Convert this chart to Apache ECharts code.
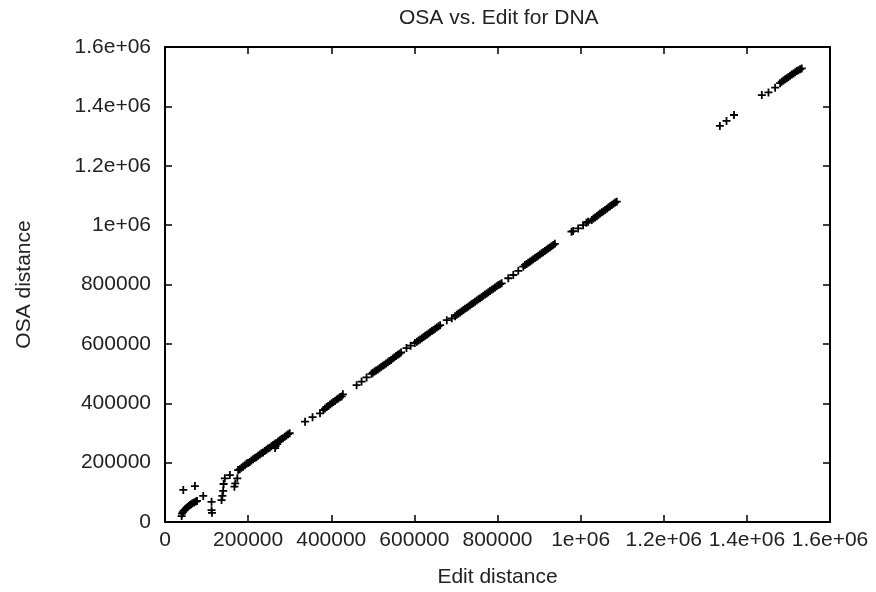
<!DOCTYPE html>
<html>
<head>
<meta charset="utf-8">
<script src="https://cdn.jsdelivr.net/npm/echarts@6/dist/echarts.min.js"></script>
<style>
  html, body { margin: 0; padding: 0; background: #fff; }
  #chart { width: 876px; height: 592px; }
</style>
</head>
<body>
<div id="chart"></div>
<script>
const FONT = "Liberation Sans";
const INK = "#222";

const xTicks = [0, 200000, 400000, 600000, 800000, 1000000, 1200000, 1400000, 1600000];
const xTickLabels = ["0", "200000", "400000", "600000", "800000", "1e+06", "1.2e+06", "1.4e+06", "1.6e+06"];
const yTicks = [0, 200000, 400000, 600000, 800000, 1000000, 1200000, 1400000, 1600000];
const yTickLabels = ["0", "200000", "400000", "600000", "800000", "1e+06", "1.2e+06", "1.4e+06", "1.6e+06"];

// edit distance (x) / OSA distance (y)
const editDist = [
  40000, 41000, 43000, 45000, 48000, 51000, 54000, 57000, 60000, 63000, 66000, 70000, 74000, 77000,
  44000, 72000, 92000, 112000, 112000, 113000, 136000, 138000, 140000, 141000, 144000, 156000, 167000, 169000, 174000,
  176000, 180000, 184000, 188000, 192000, 196000, 200000, 204000, 208000, 212000, 216000, 220000, 224000, 228000,
  232000, 236000, 240000, 244000, 248000, 252000, 256000, 260000, 264000, 268000, 272000, 276000, 280000, 284000,
  288000, 292000, 296000, 300000, 265000, 266000, 270000,
  337000, 355000, 373000, 381000,
  385000, 389000, 393000, 397000, 401000, 405000, 409000, 413000, 417000, 421000, 425000, 428000,
  461000, 473000, 485000, 497000,
  500000, 504000, 508000, 512000, 516000, 520000, 524000, 528000, 532000, 536000, 540000, 544000, 548000, 552000,
  556000, 560000, 564000, 568000,
  581000, 591000, 601000,
  606000, 610000, 614000, 618000, 622000, 626000, 630000, 634000, 638000, 642000, 646000, 650000, 654000, 658000, 662000,
  678000, 690000,
  698000, 702000, 706000, 710000, 714000, 718000, 722000, 726000, 730000, 734000, 738000, 742000, 746000, 750000,
  754000, 758000, 762000, 766000, 770000, 774000, 778000, 782000, 786000, 790000, 794000, 798000, 802000, 806000, 810000,
  826000, 838000, 850000, 862000,
  866000, 870000, 874000, 878000, 882000, 886000, 890000, 894000, 898000, 902000, 906000, 910000, 914000, 918000,
  922000, 926000, 930000, 934000, 938000,
  978000, 982000, 994000, 1006000, 1014000, 1018000,
  1027000, 1031000, 1035000, 1039000, 1043000, 1047000, 1051000, 1055000, 1059000, 1063000, 1067000, 1071000,
  1075000, 1079000, 1083000, 1087000,
  1335000, 1351000, 1369000,
  1436000, 1452000, 1468000, 1480000,
  1484000, 1488000, 1492000, 1496000, 1500000, 1504000, 1508000, 1512000, 1516000, 1520000, 1524000, 1528000, 1532000
];
const osaDist = [
  20000, 28000, 33000, 38000, 42000, 46000, 50000, 54000, 57000, 60000, 63000, 66000, 69000, 71000,
  108000, 121000, 88000, 68000, 40000, 31000, 74000, 88000, 105000, 128000, 147000, 158000, 119000, 130000, 147000,
  175000, 178000, 183000, 186000, 191000, 197000, 199000, 202000, 207000, 211000, 216000, 218000, 223000, 227000,
  232000, 234000, 239000, 243000, 248000, 250000, 255000, 259000, 264000, 266000, 271000, 275000, 280000, 282000,
  287000, 291000, 296000, 299000, 249000, 256000, 262000,
  338000, 353000, 366000, 377000,
  382000, 387000, 391000, 396000, 400000, 404000, 408000, 413000, 416000, 420000, 423000, 430000,
  461000, 473000, 487000, 499000,
  503000, 507000, 510000, 514000, 518000, 522000, 526000, 530000, 534000, 538000, 542000, 546000, 551000, 555000,
  559000, 563000, 567000, 571000,
  586000, 594000, 603000,
  607000, 611000, 615000, 619000, 623000, 627000, 631000, 635000, 639000, 643000, 647000, 651000, 655000, 659000, 663000,
  680000, 686000,
  693000, 698000, 702000, 706000, 710000, 714000, 718000, 722000, 726000, 730000, 734000, 738000, 742000, 746000,
  750000, 754000, 758000, 762000, 766000, 770000, 774000, 778000, 782000, 786000, 790000, 794000, 798000, 801000, 804000,
  821000, 832000, 846000, 860000,
  866000, 869000, 873000, 877000, 881000, 885000, 889000, 893000, 897000, 901000, 905000, 909000, 913000, 917000,
  921000, 925000, 929000, 933000, 937000,
  978000, 980000, 989000, 1000000, 1008000, 1011000,
  1017000, 1022000, 1026000, 1030000, 1035000, 1039000, 1043000, 1047000, 1051000, 1055000, 1060000, 1064000,
  1068000, 1072000, 1076000, 1079000,
  1334000, 1351000, 1371000,
  1438000, 1447000, 1463000, 1478000,
  1483000, 1487000, 1491000, 1495000, 1499000, 1503000, 1507000, 1511000, 1515000, 1519000, 1522000, 1525000, 1528000
];

const PLUS = "path://M0,3.1H8V4.9H0Z M3.1,0H4.9V8H3.1Z";

function tickLabel(ticks, labels) {
  return (v) => {
    const i = ticks.indexOf(v);
    return i >= 0 ? labels[i] : "";
  };
}

// fresh objects per axis so nothing gets shared between merges
function frameAxis(extra) {
  return Object.assign({
    type: "value",
    min: 0, max: 1600000, interval: 200000,
    axisLine: { show: true, onZero: false, lineStyle: { color: "#000", width: 2 } },
    axisTick: { show: true, inside: true, length: 7, lineStyle: { color: "#000", width: 1.5 } },
    splitLine: { show: false },
  }, extra);
}

const chart = echarts.init(document.getElementById("chart"), null, { renderer: "canvas" });
chart.setOption({
  animation: false,
  backgroundColor: "#fff",
  title: {
    text: "OSA vs. Edit for DNA",
    left: 394,
    top: 3,
    textStyle: { fontFamily: FONT, fontSize: 21, fontWeight: "normal", color: INK },
  },
  grid: { left: 165, right: 46, top: 47, bottom: 70, outerBoundsMode: "none" },
  xAxis: [
    frameAxis({
      position: "bottom",
      name: "Edit distance",
      nameLocation: "middle",
      nameGap: 45,
      nameTextStyle: { fontFamily: FONT, fontSize: 21, color: INK },
      axisLabel: {
        fontFamily: FONT, fontSize: 21, color: INK, margin: 8,
        formatter: tickLabel(xTicks, xTickLabels),
      },
    }),
    frameAxis({ position: "top", axisLabel: { show: false } }),
  ],
  yAxis: [
    frameAxis({
      position: "left",
      name: "OSA distance",
      nameLocation: "middle",
      nameGap: 130,
      nameTextStyle: { fontFamily: FONT, fontSize: 21, color: INK },
      axisLabel: {
        fontFamily: FONT, fontSize: 21, color: INK, margin: 14,
        formatter: tickLabel(yTicks, yTickLabels),
      },
    }),
    frameAxis({ position: "right", axisLabel: { show: false } }),
  ],
  series: [
    {
      name: "OSA vs. Edit",
      type: "scatter",
      xAxisIndex: 0,
      yAxisIndex: 0,
      symbol: PLUS,
      symbolSize: 8,
      itemStyle: { color: "#000", opacity: 1 },
      data: editDist.map((x, i) => [x, osaDist[i]]),
    },
    {
      // keeps the top / right frame axes alive
      name: "frame",
      type: "scatter",
      xAxisIndex: 1,
      yAxisIndex: 1,
      silent: true,
      data: [],
    },
  ],
});
</script>
</body>
</html>
